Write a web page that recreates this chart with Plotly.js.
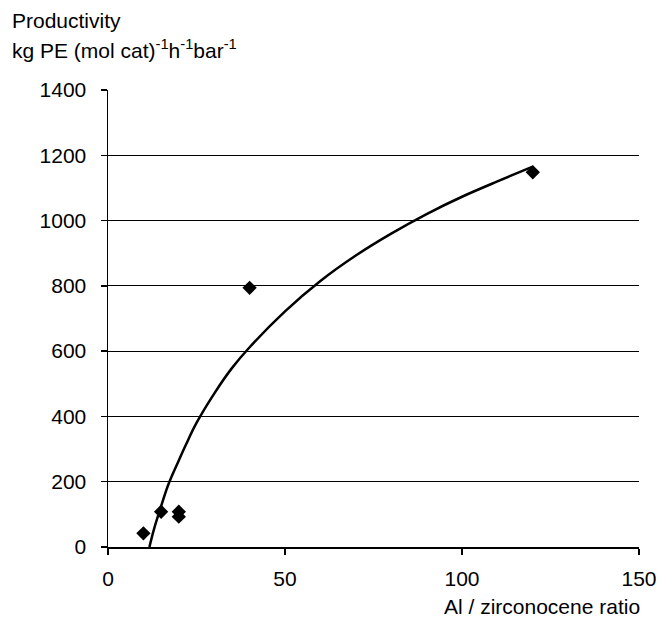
<!DOCTYPE html>
<html><head><meta charset="utf-8">
<script src="https://cdn.plot.ly/plotly-3.0.1.min.js"></script>
<style>html,body{margin:0;padding:0;background:#fff}#chart{width:660px;height:625px}</style>
</head><body><div id="chart"></div>
<script>
// Measured data points
const ratio = [10, 15, 20, 20, 40, 120];
const productivity = [42, 108, 108, 93, 794, 1148];
// Trend curve
const trendX = [11.7, 13, 15, 17, 20, 22, 25, 30, 35, 40, 50, 60, 70, 80, 90, 100, 110, 120];
const trendY = [0, 55, 125, 190, 265, 313, 380, 470, 548, 612, 722, 815, 893, 960, 1020, 1073, 1120, 1165];
const xTicks = [0, 50, 100, 150];
const yTicks = [0, 200, 400, 600, 800, 1000, 1200, 1400];

const font = {family: 'Liberation Sans, Arial, sans-serif', size: 21, color: '#000'};
const data = [
  {x: trendX, y: trendY, type: 'scatter', mode: 'lines', line: {color: '#000', width: 2.5, shape: 'spline', smoothing: 1}, hoverinfo: 'skip'},
  {x: ratio, y: productivity, type: 'scatter', mode: 'markers', marker: {symbol: 'diamond', size: 11, color: '#000'}}
];
const layout = {
  width: 660, height: 625,
  margin: {l: 108, r: 21, t: 90, b: 78},
  paper_bgcolor: '#fff', plot_bgcolor: '#fff',
  showlegend: false,
  font: font,
  xaxis: {range: [0, 150], tickvals: xTicks, showgrid: false, zeroline: false, showline: true, linecolor: '#000', linewidth: 1.5,
    ticks: 'outside', ticklen: 6, tickcolor: '#000', tickwidth: 1.5, ticklabelstandoff: 6, tickfont: font},
  yaxis: {range: [0, 1400], tickvals: yTicks, showgrid: true, gridcolor: '#000', gridwidth: 1.2, zeroline: false, showline: true, linecolor: '#000', linewidth: 1.5,
    ticks: 'outside', ticklen: 6, tickcolor: '#000', tickwidth: 1.5, ticklabelstandoff: 10, tickfont: font},
  annotations: [
    {xref: 'paper', yref: 'paper', x: -98/531, y: 1 + 70/457, xanchor: 'left', yanchor: 'middle', showarrow: false, text: 'Productivity', font: font},
    {xref: 'paper', yref: 'paper', x: -98/531, y: 1 + 41/457, xanchor: 'left', yanchor: 'middle', showarrow: false, text: 'kg PE (mol cat)<sup>-1</sup>h<sup>-1</sup>bar<sup>-1</sup>', font: font},
    {xref: 'paper', yref: 'paper', x: 1.005, y: -59/457, xanchor: 'right', yanchor: 'middle', showarrow: false, text: 'Al / zirconocene ratio', font: font}
  ]
};
Plotly.newPlot('chart', data, layout, {displayModeBar: false, staticPlot: true});
</script></body></html>
